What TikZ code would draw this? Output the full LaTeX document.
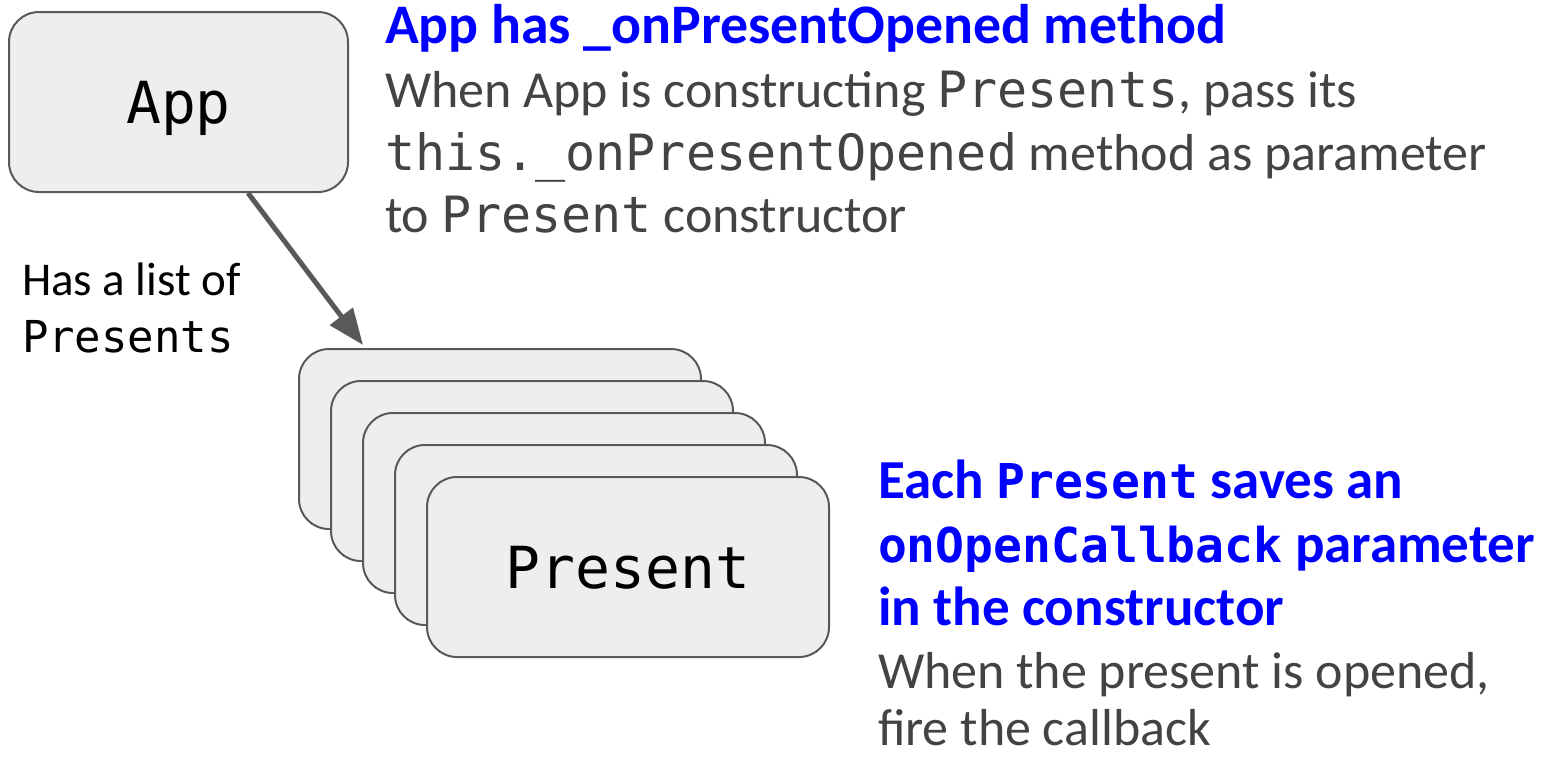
\documentclass[tikz,border=0pt]{standalone}
\usepackage{fontspec}
\setmainfont{Carlito}
\setmonofont{DejaVu Sans Mono}
\usetikzlibrary{arrows.meta,calc}
\definecolor{hblue}{HTML}{0000FF}
\definecolor{tgray}{HTML}{434343}
\definecolor{bfill}{HTML}{EEEEEE}
\definecolor{bline}{HTML}{595959}
\newcommand{\setfs}[1]{\fontsize{#1}{#1}\selectfont}
\newcommand{\mono}[2]{{\ttfamily\setfs{#1}#2}}
\begin{document}
\begin{tikzpicture}[x=0.5pt,y=-0.5pt,
  card/.style={draw=bline, fill=bfill, line width=1pt, rounded corners=15pt,
    minimum width=201pt, minimum height=90pt, inner sep=0pt, text depth=0pt,
    font=\ttfamily\setfs{29}},
  txt/.style={anchor=base west, inner sep=0pt, outer sep=0pt},
  head/.style={txt, text=hblue, font=\bfseries\setfs{27.5}},
  body/.style={txt, text=tgray, font=\setfs{26}},
  lbl/.style={txt, text=black, font=\setfs{23.5}},
  arrowline/.style={draw=bline, line width=2.5pt,
    -{Triangle[length=18pt,width=14pt]}}]
\useasboundingbox (0,0) rectangle (1554,756);

% App box
\node[card, minimum width=169.5pt] (App) at (178.5,102) {App};

% stack of Present boxes
\node[card] (P1) at (500,439) {};
\node[card] (P2) at (532,471) {};
\node[card] (P3) at (564,503) {};
\node[card] (P4) at (596,535) {};
\node[card] (P5) at (628,567) {Present};

% arrow
\coordinate (tip) at (363,345);
\draw[arrowline] ($(App.south)+(69.5,0)$) -- (tip);

% top text block
\node[head, font=\bfseries\setfs{27.9}] (h1) at (385,43) {App has \_onPresentOpened method};
\node[body] (b1) at (385,107) {When App is constructing \mono{25}{Presents}, pass its};
\node[body] (b2) at (385,170) {\mono{25}{this.\_onPresentOpened} method as parameter};
\node[body] (b3) at (385,232) {to \mono{25}{Present} constructor};

% left label
\node[lbl] (l1) at (22,295) {Has a list of};
\node[lbl] (l2) at (22,352) {\mono{22}{Presents}};

% right text block
\node[head] (r1) at (878,498) {Each \mono{24}{\bfseries Present} saves an};
\node[head] (r2) at (878,562) {\mono{24}{\bfseries onOpenCallback} parameter};
\node[head] (r3) at (878,625) {in the constructor};
\node[body] (r4) at (878,688) {When the present is opened,};
\node[body] (r5) at (878,745) {fire the callback};
\end{tikzpicture}
\end{document}
